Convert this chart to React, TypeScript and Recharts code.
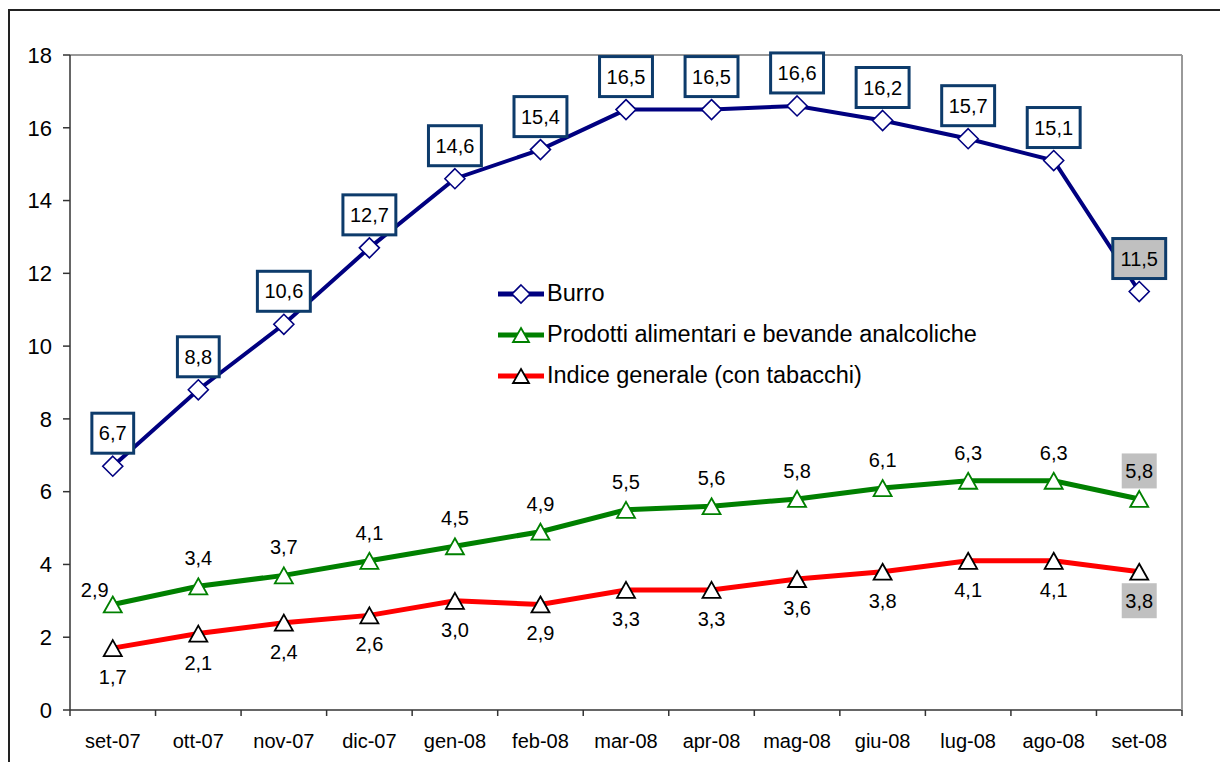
import { LineChart, Line, XAxis, YAxis, ReferenceLine, LabelList, Legend } from "recharts";

const months = ["set-07", "ott-07", "nov-07", "dic-07", "gen-08", "feb-08", "mar-08", "apr-08", "mag-08", "giu-08", "lug-08", "ago-08", "set-08"];
const burro = [6.7, 8.8, 10.6, 12.7, 14.6, 15.4, 16.5, 16.5, 16.6, 16.2, 15.7, 15.1, 11.5];
const alimentari = [2.9, 3.4, 3.7, 4.1, 4.5, 4.9, 5.5, 5.6, 5.8, 6.1, 6.3, 6.3, 5.8];
const indice = [1.7, 2.1, 2.4, 2.6, 3.0, 2.9, 3.3, 3.3, 3.6, 3.8, 4.1, 4.1, 3.8];
const yTicks = [0, 2, 4, 6, 8, 10, 12, 14, 16, 18];

const NAMES = {
  burro: "Burro",
  alimentari: "Prodotti alimentari e bevande analcoliche",
  indice: "Indice generale (con tabacchi)",
};

const FONT = "'Liberation Sans', Arial, sans-serif";
const NAVY = "#000080";
const GREEN = "#008000";
const RED = "#ff0000";
const BOX = "#0d3b6b";
const GREY = "#c0c0c0";

const data = months.map((m, i) => ({
  month: m,
  burro: burro[i],
  alimentari: alimentari[i],
  indice: indice[i],
}));

const fmt = (v: number) => v.toFixed(1).replace(".", ",");
const textWidth = (s: string, size: number) =>
  s.split("").reduce((w, c) => w + (c === "," ? 0.278 : 0.556) * size, 0);

const Diamond = ({ cx, cy, r = 10 }: { cx: number; cy: number; r?: number }) => (
  <path
    d={`M${cx},${cy - r}L${cx + r},${cy}L${cx},${cy + r}L${cx - r},${cy}Z`}
    fill="#fff"
    stroke={NAVY}
    strokeWidth={1.6}
  />
);

const Triangle = ({ cx, cy, stroke, w = 18, h = 16 }: { cx: number; cy: number; stroke: string; w?: number; h?: number }) => (
  <path
    d={`M${cx},${cy - h / 2}L${cx + w / 2},${cy + h / 2}L${cx - w / 2},${cy + h / 2}Z`}
    fill="#fff"
    stroke={stroke}
    strokeWidth={1.8}
    strokeLinejoin="miter"
  />
);

const MonthTick = (props: any) => {
  const { x, y, payload, index } = props;
  const half = payload?.offset || 1112 / 13 / 2;
  return (
    <g>
      <line x1={x - half} x2={x - half} y1={y} y2={y + 6} stroke="#333" strokeWidth={1.5} />
      {index === months.length - 1 && (
        <line x1={x + half} x2={x + half} y1={y} y2={y + 6} stroke="#333" strokeWidth={1.5} />
      )}
      <text x={x} y={y + 31} textAnchor="middle" dominantBaseline="central" fontSize={20} fontFamily={FONT} fill="#000">
        {payload.value}
      </text>
    </g>
  );
};

const BurroLabel = (props: any) => {
  const { x, y, value, index } = props;
  const s = fmt(value);
  const w = textWidth(s, 20) + 14;
  const h = 40;
  const cy = y - 33;
  return (
    <g>
      <rect x={x - w / 2} y={cy - h / 2} width={w} height={h} fill={index === burro.length - 1 ? GREY : "#fff"} stroke={BOX} strokeWidth={3} />
      <text x={x} y={cy} textAnchor="middle" dominantBaseline="central" fontSize={20} fontFamily={FONT} fill="#000">
        {s}
      </text>
    </g>
  );
};

const makePlainLabel = (above: boolean, count: number) => (props: any) => {
  const { x, y, value, index } = props;
  const s = fmt(value);
  let cx = x;
  let cy = above ? y - 28 : y + 29;
  if (above && index === 0) {
    cx = x - 18;
    cy = y - 14;
  }
  const last = index === count - 1;
  return (
    <g>
      {last && <rect x={cx - 17.5} y={cy - 17.5} width={35} height={35} fill={GREY} />}
      <text x={cx} y={cy} textAnchor="middle" dominantBaseline="central" fontSize={20} fontFamily={FONT} fill="#000">
        {s}
      </text>
    </g>
  );
};

const legendItems = [
  { key: "burro", color: NAVY },
  { key: "alimentari", color: GREEN },
  { key: "indice", color: RED },
] as const;

const renderLegend = () => (
  <div style={{ fontFamily: FONT, fontSize: 23.5, color: "#000" }}>
    {legendItems.map((it) => (
      <div key={it.key} style={{ display: "flex", alignItems: "center", height: 41 }}>
        <svg width={46} height={24} style={{ display: "block", flexShrink: 0 }}>
          <line x1={0} x2={46} y1={12} y2={12} stroke={it.color} strokeWidth={5} />
          {it.key === "burro" ? (
            <Diamond cx={23} cy={12} r={9} />
          ) : (
            <Triangle cx={23} cy={12} w={16} h={14} stroke={it.key === "alimentari" ? GREEN : "#000"} />
          )}
        </svg>
        <span style={{ marginLeft: 3, whiteSpace: "nowrap" }}>{NAMES[it.key]}</span>
      </div>
    ))}
  </div>
);

export default function App() {
  return (
    <div
      style={{
        position: "fixed",
        left: 8,
        top: 9,
        width: 1212,
        height: 753,
        borderTop: "2px solid #222",
        borderLeft: "2px solid #222",
        boxSizing: "border-box",
        overflow: "hidden",
        background: "#fff",
      }}
    >
      <LineChart width={1210} height={751} data={data} margin={{ top: 44, right: 0, bottom: 12, left: 0 }}>
        <XAxis
          dataKey="month"
          scale="band"
          height={40}
          axisLine={{ stroke: "#333", strokeWidth: 1.5 }}
          tickLine={false}
          tickSize={0}
          tickMargin={0}
          interval={0}
          tick={<MonthTick />}
        />
        <YAxis
          yAxisId="l"
          width={60}
          domain={[0, 18]}
          ticks={yTicks}
          interval={0}
          axisLine={{ stroke: "#333", strokeWidth: 1.5 }}
          tickLine={{ stroke: "#333", strokeWidth: 1.5 }}
          tickSize={7}
          tickMargin={11}
          tick={{ fontSize: 22, fill: "#000", fontFamily: FONT }}
        />
        <YAxis
          yAxisId="r"
          orientation="right"
          width={38}
          domain={[0, 18]}
          tick={false}
          tickLine={false}
          axisLine={{ stroke: "#999", strokeWidth: 2 }}
        />
        <ReferenceLine yAxisId="l" y={18} stroke="#999" strokeWidth={2} />
        <Legend
          layout="vertical"
          align="center"
          verticalAlign="middle"
          content={renderLegend}
          wrapperStyle={{ top: 262, left: 488, width: 600 }}
        />
        <Line
          yAxisId="l"
          dataKey="indice"
          name={NAMES.indice}
          stroke={RED}
          strokeWidth={5}
          isAnimationActive={false}
          dot={(p: any) => <Triangle key={`i${p.index}`} cx={p.cx} cy={p.cy} stroke="#000" />}
          activeDot={false}
        >
          <LabelList dataKey="indice" content={makePlainLabel(false, indice.length)} />
        </Line>
        <Line
          yAxisId="l"
          dataKey="alimentari"
          name={NAMES.alimentari}
          stroke={GREEN}
          strokeWidth={5}
          isAnimationActive={false}
          dot={(p: any) => <Triangle key={`a${p.index}`} cx={p.cx} cy={p.cy} stroke={GREEN} />}
          activeDot={false}
        >
          <LabelList dataKey="alimentari" content={makePlainLabel(true, alimentari.length)} />
        </Line>
        <Line
          yAxisId="l"
          dataKey="burro"
          name={NAMES.burro}
          stroke={NAVY}
          strokeWidth={4}
          isAnimationActive={false}
          dot={(p: any) => <Diamond key={`b${p.index}`} cx={p.cx} cy={p.cy} />}
          activeDot={false}
        >
          <LabelList dataKey="burro" content={<BurroLabel />} />
        </Line>
      </LineChart>
    </div>
  );
}
